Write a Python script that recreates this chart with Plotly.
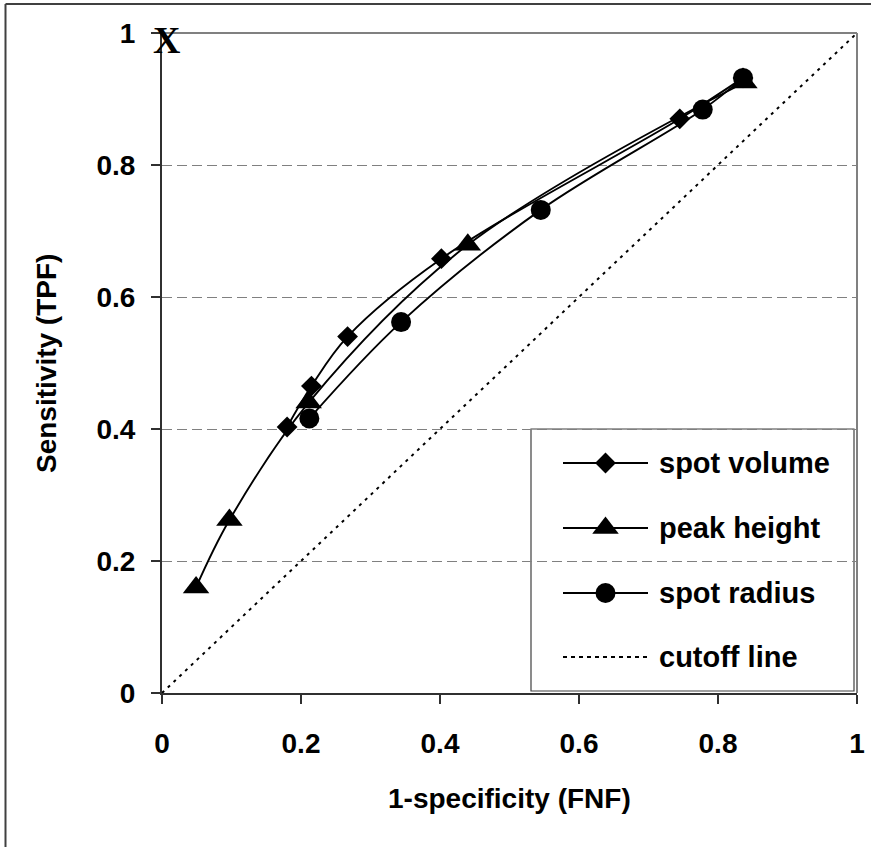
import plotly.graph_objects as go

# ---------------- data ----------------
vol_x = [0.180, 0.215, 0.267, 0.402, 0.745, 0.836]
vol_y = [0.403, 0.465, 0.540, 0.658, 0.870, 0.932]

peak_x = [0.049, 0.097, 0.211, 0.440, 0.838]
peak_y = [0.160, 0.262, 0.440, 0.679, 0.925]

rad_x = [0.212, 0.344, 0.545, 0.778, 0.836]
rad_y = [0.416, 0.562, 0.732, 0.884, 0.932]

cut_x = [0.0, 1.0]
cut_y = [0.0, 1.0]

series_names = ["spot volume", "peak height", "spot radius", "cutoff line"]
tick_vals = [0, 0.2, 0.4, 0.6, 0.8, 1]
tick_text = ["0", "0.2", "0.4", "0.6", "0.8", "1"]
x_title = "1-specificity (FNF)"
y_title = "Sensitivity (TPF)"

# ---------------- layout constants ----------------
W, H = 871, 847
L, R, T, B = 162, 857, 33, 693   # plot area in pixels
FONT = "Liberation Sans, Arial, sans-serif"


def px(x):
    return (x - L) / (R - L)


def py(y):
    return (B - y) / (B - T)


fig = go.Figure()

fig.add_trace(go.Scatter(x=cut_x, y=cut_y, mode="lines",
                         line=dict(color="black", width=2, dash="3px,5px"),
                         showlegend=False, hoverinfo="skip"))
fig.add_trace(go.Scatter(x=vol_x, y=vol_y, mode="lines+markers", name=series_names[0],
                         line=dict(color="black", width=1.9, shape="spline", smoothing=1),
                         marker=dict(symbol="diamond", size=16, color="black"),
                         showlegend=False))
fig.add_trace(go.Scatter(x=peak_x, y=peak_y, mode="lines+markers", name=series_names[1],
                         line=dict(color="black", width=1.9, shape="spline", smoothing=1),
                         marker=dict(symbol="triangle-up", size=23, color="black"),
                         showlegend=False))
fig.add_trace(go.Scatter(x=rad_x, y=rad_y, mode="lines+markers", name=series_names[2],
                         line=dict(color="black", width=1.9, shape="spline", smoothing=1),
                         marker=dict(symbol="circle", size=20, color="black"),
                         showlegend=False))

shapes = []
annotations = []

# plot border top/right (grey)
shapes.append(dict(type="line", xref="paper", yref="paper", x0=0, x1=1, y0=1, y1=1,
                   line=dict(color="#808080", width=2)))
shapes.append(dict(type="line", xref="paper", yref="paper", x0=1, x1=1, y0=0, y1=1,
                   line=dict(color="#808080", width=2)))

# outer frame (left + top)
shapes.append(dict(type="line", xref="paper", yref="paper", x0=px(5.5), x1=px(5.5),
                   y0=py(4), y1=py(H + 5), line=dict(color="#404040", width=2)))
shapes.append(dict(type="line", xref="paper", yref="paper", x0=px(5.5), x1=px(W + 5),
                   y0=py(4), y1=py(4), line=dict(color="#404040", width=2)))

# manual legend box (covers the grid lines, sits below the traces)
shapes.append(dict(type="rect", xref="paper", yref="paper", x0=px(531), x1=px(854),
                   y0=py(691), y1=py(429), fillcolor="white",
                   line=dict(color="#404040", width=1.2), layer="between"))
rows = [463, 528, 593, 657]
symbols = ["diamond", "triangle-up", "circle", None]
sizes = [16, 23, 20, 0]
for name, ry, sym, sz in zip(series_names, rows, symbols, sizes):
    dash = "solid" if sym else "4px,4px"
    shapes.append(dict(type="line", xref="paper", yref="paper", x0=px(563), x1=px(648),
                       y0=py(ry), y1=py(ry), layer="between",
                       line=dict(color="black", width=2, dash=dash)))
    annotations.append(dict(text=name, xref="paper", yref="paper", x=px(657), y=py(ry),
                            xanchor="left", yanchor="middle", showarrow=False,
                            font=dict(family=FONT, size=29, color="black", weight="bold")))
    if sym:
        fig.add_trace(go.Scatter(x=[px(605.5)], y=[py(ry)], mode="markers",
                                 marker=dict(symbol=sym, size=sz, color="black"),
                                 showlegend=False, hoverinfo="skip"))

# axis titles
annotations.append(dict(text=x_title, xref="paper", yref="paper", x=px(509.5), y=py(798),
                        xanchor="center", yanchor="middle", showarrow=False,
                        font=dict(family=FONT, size=28, color="black", weight="bold")))
annotations.append(dict(text=y_title, xref="paper", yref="paper", x=px(46), y=py(363),
                        xanchor="center", yanchor="middle", showarrow=False, textangle=-90,
                        font=dict(family=FONT, size=28, color="black", weight="bold")))
# the "X" mark at the top-left corner
annotations.append(dict(text="X", xref="paper", yref="paper", x=px(166), y=py(40),
                        xanchor="center", yanchor="middle", showarrow=False,
                        font=dict(family="Liberation Serif, Times New Roman, serif", size=38,
                                  color="black", weight="bold")))

axis_common = dict(range=[0, 1], tickvals=tick_vals, ticktext=tick_text,
                   showline=True, linecolor="#303030", linewidth=2,
                   ticks="outside", ticklen=9, tickwidth=1.5, tickcolor="#303030",
                   tickfont=dict(family=FONT, size=28, color="black", weight="bold"),
                   zeroline=False, fixedrange=True)

fig.update_layout(
    width=W, height=H,
    margin=dict(l=L, r=W - R, t=T, b=H - B, pad=0, autoexpand=False),
    paper_bgcolor="white", plot_bgcolor="white",
    showlegend=False,
    xaxis=dict(**axis_common, showgrid=False, ticklabelstandoff=15, automargin=False),
    yaxis=dict(**axis_common, showgrid=True, gridcolor="#808080", gridwidth=1,
               griddash="10px,5px", ticklabelstandoff=10, automargin=False),
    shapes=shapes,
    annotations=annotations,
)

fig.write_html("out.html", config={"displayModeBar": False},
               post_script="document.body.style.margin='0px';")
